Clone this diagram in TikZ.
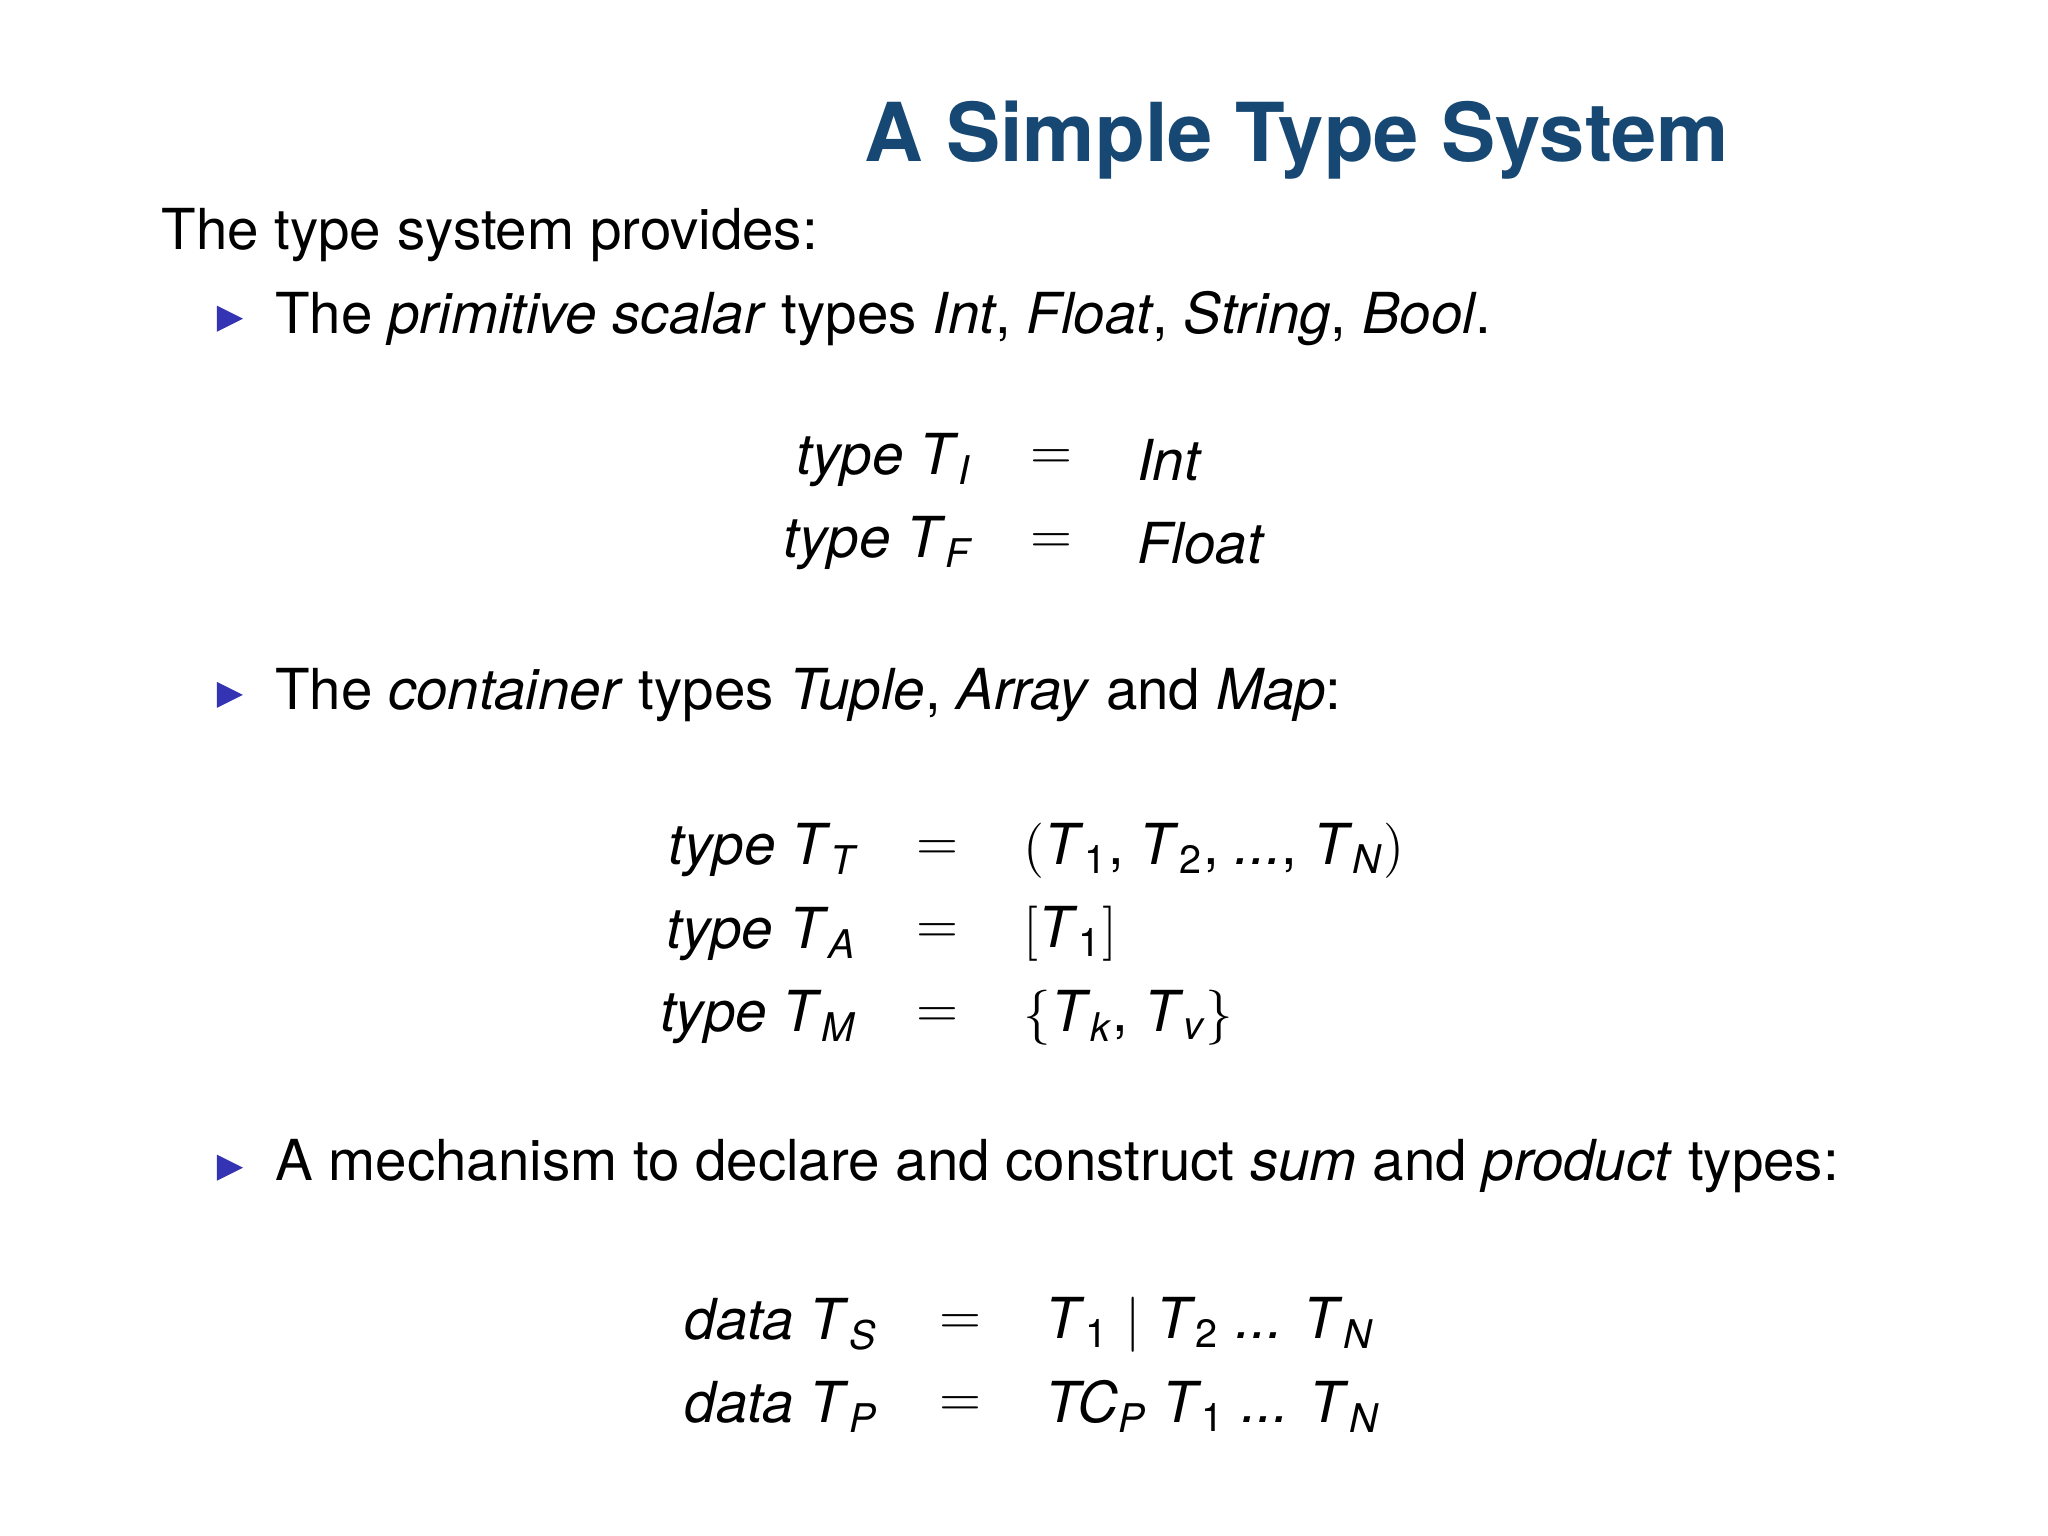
\documentclass[tikz,border=0pt]{standalone}
\usepackage{amssymb}
\usepackage{fontspec}
\setsansfont{TeX Gyre Heros}
\definecolor{titleblue}{RGB}{22,72,115}
\definecolor{bulletblue}{RGB}{51,51,179}
\newcommand\si[1]{\textsf{\itshape #1}}
\newcommand\TT[1]{\si{T}\textsubscript{\sffamily\itshape #1}}
\tikzset{txt/.style={inner sep=0,font=\fontsize{12.3}{15}\selectfont\sffamily},
 lhs/.style={txt,anchor=east}, rhs/.style={txt,anchor=west}, eq/.style={txt},
 bul/.style={fill=bulletblue,draw=none}}
\begin{document}
\begin{tikzpicture}[x=0.01cm,y=-0.01cm]
\useasboundingbox (0,0) rectangle (1568,1176);
\node[inner sep=0,font=\fontsize{17.7}{22}\selectfont\sffamily\bfseries,text=titleblue] (title) at (993,107) {A Simple Type System};
\node[txt,anchor=west] (intro) at (123,180) {The type system provides:};
\foreach \yy in {244,532,894}{\fill[bul] (166,\yy-10)--(166,\yy+10)--(186,\yy)--cycle;}
\node[txt,anchor=west] (t1) at (210,244) {The \emph{primitive scalar} types \emph{Int}, \emph{Float}, \emph{String}, \emph{Bool}.};
\node[txt,anchor=west] (t2) at (210,532) {The \emph{container} types \emph{Tuple}, \emph{Array} and \emph{Map}:};
\node[txt,anchor=west] (t3) at (210,893) {A mechanism to declare and construct \emph{sum} and \emph{product} types:};
% group 1
\node[lhs] (l1) at (745,352) {\si{type} \TT{I}};
\node[eq] (e1) at (805,352) {$=$};
\node[rhs] (r1) at (870,352) {\si{Int}};
\node[lhs] (l2) at (745,416) {\si{type} \TT{F}};
\node[eq] (e2) at (805,416) {$=$};
\node[rhs] (r2) at (870,416) {\si{Float}};
% group 2
\node[lhs] (l3) at (657,651) {\si{type} \TT{T}};
\node[eq] (e3) at (718,651) {$=$};
\node[rhs] (r3) at (783,651) {$($\TT{\upshape 1}, \TT{\upshape 2}, \si{...}, \TT{N}$)$};
\node[lhs] (l4) at (657,715) {\si{type} \TT{A}};
\node[eq] (e4) at (718,715) {$=$};
\node[rhs] (r4) at (783,715) {$[$\TT{\upshape 1}$]$};
\node[lhs] (l5) at (657,779) {\si{type} \TT{M}};
\node[eq] (e5) at (718,779) {$=$};
\node[rhs] (r5) at (783,779) {$\{$\TT{k}, \TT{v}$\}$};
% group 3
\node[lhs] (l6) at (673,1014) {\si{data} \TT{S}};
\node[eq] (e6) at (735,1014) {$=$};
\node[rhs] (r6) at (800,1014) {\TT{\upshape 1} $|$ \TT{\upshape 2} \si{...} \TT{N}};
\node[lhs] (l7) at (673,1077) {\si{data} \TT{P}};
\node[eq] (e7) at (735,1077) {$=$};
\node[rhs] (r7) at (800,1077) {\si{TC}\textsubscript{\sffamily\itshape P} \TT{\upshape 1} \si{...} \TT{N}};
\end{tikzpicture}
\end{document}
